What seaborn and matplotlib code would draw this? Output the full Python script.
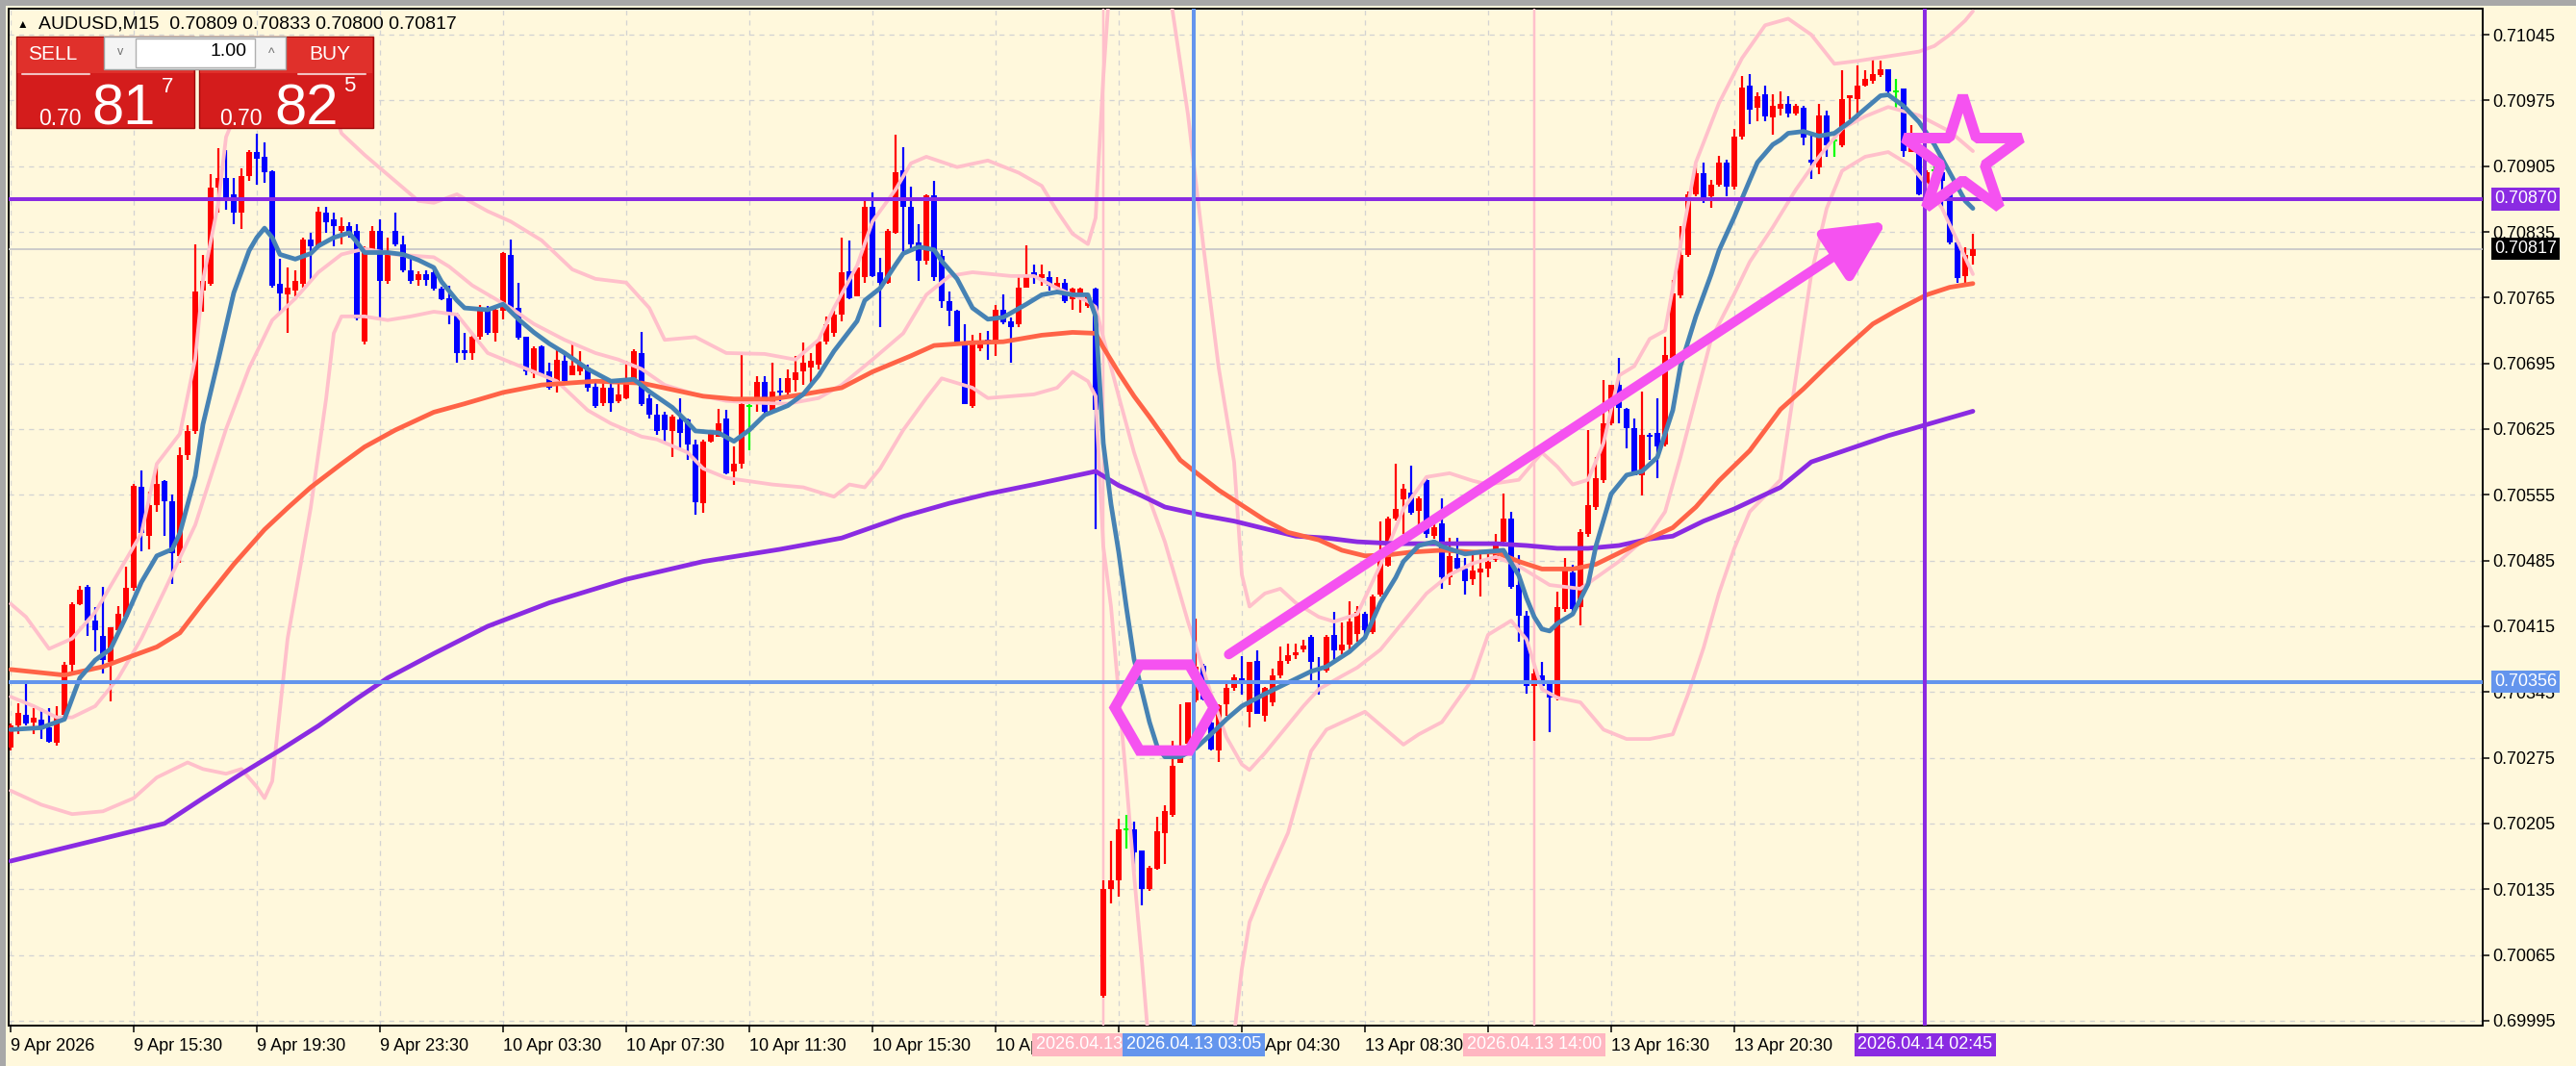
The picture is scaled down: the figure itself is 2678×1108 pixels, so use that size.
import numpy as np
import pandas as pd
import matplotlib
matplotlib.use("Agg")
import matplotlib.pyplot as plt
import matplotlib.transforms as mtransforms
from matplotlib.patches import Rectangle
import seaborn as sns

# AUDUSD M15 candles, values in points above 0.70000 (1 point = 0.00001)
base = 0.70
pt = 0.00001

opens = [286, 309, 321, 313, 316, 307, 291, 321, 374, 439, 457, 421, 405, 377, 411, 425, 456, 564, 511, 544,
         570, 548, 490, 597, 623, 773, 780, 882, 892, 875, 855, 894, 920, 915, 900, 780, 768, 773, 780, 827,
         820, 855, 848, 836, 841, 836, 718, 813, 836, 783, 836, 822, 794, 784, 790, 792, 775, 764, 747, 709,
         706, 723, 754, 727, 751, 810, 754, 723, 684, 713, 686, 672, 698, 682, 686, 691, 670, 653, 669, 655,
         658, 676, 706, 658, 640, 640, 623, 635, 635, 609, 546, 612, 617, 636, 580, 588, 650, 652, 675, 643,
         666, 664, 677, 686, 691, 694, 718, 727, 747, 793, 766, 787, 862, 792, 781, 834, 901, 862, 824, 804,
         874, 809, 761, 751, 715, 650, 711, 720, 718, 752, 740, 737, 776, 792, 786, 787, 776, 781, 763, 768,
         756, 775, 22, 135, 145, 199, 199, 176, 135, 157, 195, 214, 269, 290, 336, 373, 313, 283, 332, 349,
         360, 324, 378, 320, 334, 363, 378, 384, 390, 404, 371, 368, 406, 389, 395, 407, 428, 409, 449, 480,
         530, 550, 557, 538, 571, 511, 525, 467, 488, 476, 465, 472, 476, 486, 505, 530, 459, 426, 351, 363,
         355, 339, 433, 472, 435, 513, 542, 571, 631, 672, 646, 626, 576, 619, 621, 609, 701, 767, 810, 875,
         897, 873, 885, 909, 883, 936, 991, 967, 982, 957, 966, 971, 961, 967, 912, 904, 959, 932, 927, 977,
         976, 991, 996, 1002, 1008, 985, 988, 920, 921, 877, 901, 899, 877, 824, 788, 809]
highs = [312, 333, 353, 328, 328, 328, 330, 377, 441, 458, 459, 435, 457, 414, 436, 479, 567, 581, 558, 585,
         571, 555, 606, 629, 822, 810, 896, 924, 922, 892, 903, 922, 940, 930, 901, 806, 797, 794, 829, 834,
         862, 862, 855, 850, 845, 843, 820, 841, 848, 829, 856, 831, 806, 793, 794, 795, 777, 778, 749, 727,
         725, 757, 756, 754, 814, 827, 781, 723, 713, 714, 696, 711, 708, 716, 708, 694, 677, 679, 677, 677,
         698, 710, 728, 662, 652, 643, 640, 658, 636, 614, 614, 624, 646, 645, 607, 706, 657, 681, 681, 696,
         679, 689, 703, 717, 706, 720, 745, 751, 829, 826, 797, 870, 877, 807, 838, 939, 925, 883, 843, 875,
         889, 816, 771, 752, 737, 725, 727, 730, 757, 768, 744, 787, 821, 800, 800, 793, 787, 785, 776, 776,
         769, 776, 145, 187, 210, 214, 207, 176, 160, 212, 224, 293, 332, 334, 423, 375, 318, 332, 356, 364,
         383, 377, 389, 350, 370, 393, 397, 397, 401, 406, 382, 406, 430, 419, 442, 436, 430, 449, 527, 532,
         588, 567, 586, 553, 573, 525, 551, 509, 509, 488, 496, 496, 492, 513, 556, 537, 491, 431, 370, 377,
         358, 452, 488, 481, 518, 624, 595, 677, 672, 701, 648, 636, 665, 621, 658, 723, 784, 841, 878, 907,
         909, 890, 916, 912, 945, 1001, 1003, 984, 991, 982, 985, 979, 971, 969, 937, 971, 964, 940, 1007, 980,
         1012, 1007, 1020, 1017, 1008, 998, 988, 949, 923, 901, 906, 901, 879, 826, 819, 833]
lows = [283, 300, 309, 300, 295, 291, 288, 318, 367, 437, 405, 388, 365, 335, 407, 423, 453, 495, 497, 537,
        511, 460, 483, 592, 620, 750, 778, 855, 859, 843, 838, 889, 885, 887, 776, 748, 727, 766, 776, 783,
        818, 834, 820, 822, 829, 741, 715, 811, 741, 780, 820, 792, 780, 778, 778, 773, 762, 737, 696, 699,
        699, 720, 725, 718, 742, 749, 720, 682, 679, 681, 667, 664, 672, 682, 682, 665, 648, 650, 643, 653,
        657, 672, 650, 636, 619, 611, 595, 602, 592, 534, 536, 611, 617, 577, 566, 583, 602, 643, 640, 641,
        655, 658, 665, 672, 669, 689, 715, 723, 740, 763, 766, 781, 787, 734, 780, 833, 814, 816, 783, 800,
        783, 754, 735, 715, 652, 648, 708, 699, 703, 737, 696, 734, 776, 780, 778, 773, 773, 759, 752, 749,
        754, 518, 20, 120, 127, 178, 154, 118, 133, 156, 162, 212, 269, 288, 334, 336, 283, 271, 320, 346,
        342, 307, 322, 314, 330, 360, 375, 380, 387, 358, 342, 366, 377, 385, 388, 399, 401, 407, 447, 478,
        528, 513, 534, 523, 509, 508, 455, 459, 474, 449, 459, 447, 467, 484, 503, 455, 399, 343, 293, 348,
        302, 336, 430, 428, 416, 510, 539, 568, 629, 631, 605, 576, 554, 592, 573, 607, 699, 764, 808, 873,
        866, 861, 883, 873, 880, 933, 950, 953, 953, 939, 959, 957, 959, 927, 891, 896, 915, 915, 925, 955,
        955, 990, 993, 1000, 980, 966, 915, 920, 874, 870, 894, 862, 822, 781, 781, 800]
closes = [309, 323, 312, 318, 305, 292, 319, 374, 439, 454, 421, 411, 379, 414, 428, 456, 565, 514, 544, 567,
          548, 493, 597, 623, 771, 783, 882, 892, 871, 855, 894, 920, 913, 899, 778, 769, 776, 783, 827, 820,
          857, 845, 841, 841, 834, 743, 813, 836, 783, 811, 822, 794, 783, 790, 784, 775, 763, 747, 706, 706,
          723, 752, 727, 752, 812, 752, 722, 686, 711, 682, 669, 699, 676, 693, 694, 669, 650, 669, 653, 662,
          677, 708, 652, 640, 623, 624, 638, 621, 609, 547, 612, 623, 631, 578, 588, 652, 650, 675, 643, 665,
          664, 679, 685, 696, 698, 718, 737, 747, 792, 764, 797, 862, 788, 781, 836, 899, 862, 822, 804, 874,
          787, 761, 751, 717, 652, 717, 718, 719, 752, 739, 734, 776, 788, 787, 790, 778, 781, 761, 775, 775,
          766, 645, 135, 145, 199, 199, 174, 135, 158, 197, 218, 266, 276, 334, 372, 337, 284, 331, 349, 361,
          355, 377, 322, 349, 363, 378, 384, 387, 394, 377, 368, 404, 389, 396, 420, 430, 411, 447, 492, 530,
          540, 561, 536, 551, 513, 521, 467, 490, 476, 463, 474, 476, 484, 503, 530, 457, 426, 351, 365, 351,
          339, 435, 474, 433, 515, 544, 573, 631, 672, 648, 626, 576, 619, 617, 607, 704, 769, 810, 875, 897,
          870, 885, 909, 883, 936, 989, 965, 979, 958, 969, 971, 961, 969, 935, 909, 959, 927, 932, 976, 980,
          991, 998, 1003, 1008, 985, 985, 921, 925, 875, 899, 901, 889, 824, 786, 810, 817]

# moving averages (bar index, points)
fast_ma_bars = [0, 4, 7, 9, 11, 13, 15, 17, 19, 21, 22, 24, 25, 27, 29, 31, 32, 33, 34, 35, 37, 39, 40, 42, 44, 45,
                46, 49, 51, 53, 55, 56, 58, 59, 62, 64, 66, 68, 70, 72, 75, 78, 81, 83, 86, 88, 89, 92, 94, 96,
                98, 101, 103, 105, 107, 110, 111, 113, 115, 116, 118, 120, 121, 123, 125, 127, 129, 132, 134,
                136, 138, 140, 141, 142, 143, 144, 145, 146, 148, 149, 150, 152, 154, 156, 158, 160, 163, 166,
                169, 171, 174, 176, 178, 180, 181, 183, 185, 186, 189, 191, 194, 196, 197, 198, 199, 200, 201,
                203, 205, 206, 208, 210, 212, 214, 216, 217, 219, 221, 222, 224, 226, 227, 229, 230, 231, 233,
                235, 237, 239, 241, 243, 244, 246, 248, 250, 252, 254, 255]
fast_ma_pts = [305, 307, 316, 360, 379, 391, 425, 462, 490, 497, 514, 575, 630, 699, 770, 815, 829, 839, 829, 811,
               806, 812, 820, 829, 834, 824, 813, 813, 811, 805, 797, 782, 762, 754, 752, 758, 742, 728, 716,
               706, 689, 676, 678, 665, 648, 632, 623, 621, 612, 624, 640, 650, 662, 682, 708, 740, 762, 775,
               800, 812, 819, 816, 804, 785, 754, 742, 744, 758, 768, 771, 768, 768, 745, 610, 545, 494, 435,
               380, 313, 287, 276, 276, 285, 300, 316, 330, 343, 355, 367, 372, 388, 403, 440, 467, 484, 501,
               505, 500, 492, 494, 496, 469, 445, 425, 412, 410, 418, 428, 460, 500, 556, 576, 580, 595, 645,
               692, 745, 790, 815, 851, 890, 909, 928, 933, 940, 942, 937, 940, 952, 966, 980, 981, 969, 952,
               928, 898, 868, 860]

slow_ma_bars = [0, 7, 12, 16, 19, 22, 25, 29, 33, 36, 39, 43, 46, 50, 55, 59, 64, 69, 76, 82, 86, 90, 94, 99, 103,
                108, 112, 117, 120, 125, 129, 134, 138, 141, 142, 144, 146, 148, 150, 152, 154, 157, 160, 163,
                166, 170, 173, 176, 179, 182, 186, 190, 193, 196, 199, 203, 206, 209, 212, 216, 219, 222, 226,
                230, 233, 236, 239, 242, 245, 249, 252, 255]
slow_ma_pts = [369, 363, 372, 384, 393, 408, 440, 481, 518, 541, 563, 588, 606, 624, 643, 652, 664, 672, 676, 674,
               667, 660, 657, 657, 662, 669, 686, 703, 714, 717, 718, 725, 728, 727, 712, 685, 660, 638, 615,
               592, 579, 560, 544, 528, 515, 507, 496, 490, 491, 494, 496, 494, 494, 484, 476, 476, 481, 493,
               505, 520, 542, 570, 602, 646, 668, 692, 715, 737, 751, 768, 776, 780]

long_ma_bars = [0, 10, 20, 25, 30, 35, 40, 45, 49, 55, 62, 70, 80, 90, 100, 108, 116, 122, 127, 133, 141, 144, 147,
                150, 155, 159, 163, 167, 171, 175, 180, 193, 197, 201, 205, 209, 213, 216, 220, 224, 230, 234,
                244, 255]
long_ma_pts = [165, 185, 205, 232, 258, 283, 309, 338, 360, 386, 415, 440, 465, 484, 497, 509, 532, 546, 556, 566,
               580, 565, 554, 542, 533, 527, 519, 511, 509, 505, 503, 503, 501, 498, 498, 501, 508, 511, 527,
               540, 563, 590, 618, 644]

# Bollinger bands (upper / middle / lower)
bb_up_bars = [0, 2, 5, 8, 11, 14, 17, 19, 22, 24, 25, 27, 28, 30, 33, 38, 41, 43, 46, 50, 53, 55, 58, 62, 65, 69,
              73, 76, 80, 83, 85, 89, 93, 98, 102, 105, 107, 110, 112, 115, 117, 119, 123, 127, 131, 134, 136,
              138, 140, 141, 142, 143, 150, 151, 153, 155, 157, 159, 160, 161, 163, 165, 167, 170, 172, 175,
              178, 181, 184, 187, 190, 192, 196, 199, 201, 203, 205, 207, 209, 211, 213, 215, 217, 219, 222,
              225, 228, 231, 234, 237, 240, 244, 248, 250, 252, 254, 255]
bb_up_pts = [439, 425, 391, 402, 430, 472, 514, 588, 620, 700, 783, 866, 936, 975, 1000, 1015, 990, 940, 917,
             889, 868, 866, 875, 857, 846, 826, 795, 785, 781, 754, 720, 723, 706, 705, 699, 720, 754, 799, 846,
             880, 908, 915, 904, 911, 898, 884, 857, 833, 822, 850, 1000, 1120, 1120, 1070, 960, 820, 690, 590,
             470, 436, 450, 455, 440, 425, 420, 428, 480, 540, 574, 578, 570, 566, 571, 600, 585, 566, 571,
             610, 682, 692, 721, 730, 820, 909, 972, 1020, 1055, 1062, 1045, 1014, 1017, 1022, 1027, 1033,
             1045, 1060, 1070]
bb_mid_bars = [0, 3, 6, 8, 11, 14, 17, 20, 24, 28, 31, 34, 37, 40, 43, 46, 50, 55, 57, 60, 65, 68, 72, 76, 79, 82,
               85, 89, 93, 97, 101, 105, 108, 112, 116, 119, 122, 125, 130, 133, 136, 140, 141, 142, 144, 146,
               148, 150, 153, 156, 158, 160, 161, 163, 165, 168, 170, 173, 175, 178, 181, 184, 187, 190, 193,
               196, 200, 204, 209, 213, 215, 217, 219, 221, 224, 226, 229, 232, 235, 238, 241, 244, 248, 252,
               255]
bb_mid_pts = [340, 330, 318, 318, 330, 360, 402, 453, 523, 625, 690, 741, 764, 792, 811, 817, 811, 808, 798, 778,
              754, 737, 720, 706, 699, 689, 672, 662, 655, 653, 652, 658, 672, 699, 727, 768, 788, 792, 788,
              788, 775, 761, 755, 722, 660, 600, 550, 505, 420, 343, 297, 268, 262, 280, 300, 330, 348, 362,
              371, 390, 420, 450, 470, 482, 489, 479, 459, 455, 484, 513, 537, 595, 658, 721, 769, 803, 840,
              880, 915, 945, 958, 968, 959, 942, 921]
bb_low_bars = [0, 4, 8, 12, 16, 19, 23, 25, 28, 30, 32, 33, 34, 36, 39, 41, 42, 43, 46, 49, 52, 55, 58, 62, 68, 71,
               75, 78, 82, 84, 88, 90, 93, 99, 103, 107, 109, 111, 113, 116, 119, 121, 125, 127, 133, 136, 138,
               140, 141, 142, 143, 145, 146, 147, 148, 158, 159, 160, 161, 163, 166, 169, 171, 176, 178, 181,
               183, 186, 190, 192, 195, 197, 199, 201, 204, 207, 210, 213, 216, 218, 220, 222, 224, 226, 230,
               232, 234, 236, 238, 241, 244, 247, 249, 251, 253, 255]
bb_low_pts = [240, 225, 215, 218, 232, 254, 270, 263, 258, 263, 244, 232, 250, 402, 541, 657, 727, 745, 745, 741,
              745, 750, 747, 706, 686, 676, 645, 631, 617, 614, 600, 583, 573, 566, 563, 553, 566, 563, 583,
              624, 658, 679, 669, 658, 662, 669, 686, 676, 660, 500, 436, 250, 150, 60, -40, -40, -20, 50, 100,
              140, 195, 282, 305, 324, 310, 289, 300, 313, 359, 406, 421, 401, 348, 339, 334, 305, 295, 295,
              300, 343, 392, 450, 498, 537, 571, 680, 790, 860, 900, 915, 920, 905, 885, 860, 825, 790]

# chart objects
hline_levels = [0.70870, 0.70356]
bid_level = 0.70817
vline_bars = [142, 198, 153.75, 248.8]
vline_labels = ["2026.04.13 00:00", "2026.04.13 14:00", "2026.04.13 03:05", "2026.04.14 02:45"]
hexagon_at = (149.9, 329)
arrow_from = (158.3, 385)
arrow_to = (243.8, 846)
star_at = (253.6, 915)

tick_bars = list(range(0, 241, 16))
tick_labels = ["9 Apr 2026", "9 Apr 15:30", "9 Apr 19:30", "9 Apr 23:30", "10 Apr 03:30", "10 Apr 07:30",
               "10 Apr 11:30", "10 Apr 15:30", "10 Apr 19:30", "13 Apr 00:30", "13 Apr 04:30", "13 Apr 08:30",
               "13 Apr 12:30", "13 Apr 16:30", "13 Apr 20:30", "14 Apr 00:30"]
price_ticks = [0.69995 + 0.0007 * k for k in range(16)]


def to_price(v):
    return base + np.asarray(v, dtype=float) * pt


sns.set_theme(style="white")
plt.rcParams['font.family'] = ['Liberation Sans', 'DejaVu Sans']

bg = '#FFF8DC'
red, blue, green = '#FF0000', '#0000FF', '#00FF00'
purple, cblue, pink, mag = '#8A2BE2', '#6495ED', '#FFC0CB', '#F552F0'
PX = 0.72  # points per pixel at dpi 100

W, H = 2678, 1108
fig = plt.figure(figsize=(W / 100, H / 100), dpi=100, facecolor=bg)
ax = fig.add_axes([9 / W, 42 / H, 2572 / W, 1057 / H])
ax.set_facecolor(bg)

# candles
cd = pd.DataFrame({'bar': np.arange(len(opens)), 'o': to_price(opens), 'h': to_price(highs),
                   'l': to_price(lows), 'c': to_price(closes)})
cd['col'] = np.where(cd.c > cd.o + 1e-9, red, np.where(cd.c < cd.o - 1e-9, blue, green))
ax.vlines(cd.bar, cd.l, cd.h, colors=cd.col, lw=2.2 * PX, zorder=3)
body = cd[cd.col != green]
ax.bar(body.bar, body.c - body.o, bottom=body.o, width=0.68, color=body.col, lw=0, zorder=3)
doji = cd[cd.col == green]
ax.hlines(doji.o, doji.bar - 0.34, doji.bar + 0.34, colors=green, lw=2 * PX, zorder=3)

# indicators
for xs, ys, col, lw, z in [(bb_up_bars, bb_up_pts, pink, 3.8, 4), (bb_mid_bars, bb_mid_pts, pink, 3.8, 4),
                           (bb_low_bars, bb_low_pts, pink, 3.8, 4), (long_ma_bars, long_ma_pts, purple, 4.8, 5),
                           (slow_ma_bars, slow_ma_pts, '#FF6347', 4.8, 5),
                           (fast_ma_bars, fast_ma_pts, '#4682B4', 4.8, 5)]:
    sns.lineplot(x=xs, y=to_price(ys), ax=ax, color=col, lw=lw * PX, zorder=z,
                 estimator=None, sort=False, legend=False)

# horizontal / vertical objects
ax.axhline(bid_level, color='#C8C8C8', lw=1.8 * PX, zorder=2.6)
ax.axhline(hline_levels[0], color=purple, lw=4 * PX, zorder=6)
ax.axhline(hline_levels[1], color=cblue, lw=4 * PX, zorder=6)
ax.axvline(vline_bars[0], color=pink, lw=2.5 * PX, zorder=2.7)
ax.axvline(vline_bars[1], color=pink, lw=2.5 * PX, zorder=2.7)
ax.axvline(vline_bars[2], color=cblue, lw=4 * PX, zorder=6)
ax.axvline(vline_bars[3], color=purple, lw=4 * PX, zorder=6)

# drawn shapes
ax.plot([hexagon_at[0]], [to_price(hexagon_at[1])], marker='H', ms=103 * PX, mfc='none', mec=mag,
        mew=11 * PX, zorder=7)
ax.plot([star_at[0]], [to_price(star_at[1])], marker='*', ms=128 * PX, mfc='none', mec=mag,
        mew=11 * PX, zorder=7)
ax.annotate('', xy=(arrow_to[0], to_price(arrow_to[1])), xytext=(arrow_from[0], to_price(arrow_from[1])),
            arrowprops=dict(arrowstyle='-|>,head_length=0.9,head_width=0.45', mutation_scale=42,
                            lw=10 * PX, color=mag, shrinkA=0, shrinkB=0), zorder=7)

# axes styling
ax.set_xlim(-0.25, 321.25)
ax.set_ylim(0.699898, 0.710727)
ax.set_xlabel('')
ax.set_ylabel('')
ax.yaxis.tick_right()
ax.set_yticks(price_ticks)
ax.set_yticklabels([f"{v:.5f}" for v in price_ticks])
ax.set_xticks(tick_bars)
ax.set_xticklabels(tick_labels)
plt.setp(ax.get_xticklabels(), ha='left')
ax.tick_params(axis='y', direction='out', length=7 * PX, width=1.5 * PX, pad=2.5, labelsize=13,
               colors='black', right=True, left=False)
ax.tick_params(axis='x', direction='out', length=7 * PX, width=1.5 * PX, pad=4.5, labelsize=13,
               colors='black', bottom=True)
ax.grid(True, color='#D3D3D3', lw=1.3 * PX, ls=(0, (4, 4)), zorder=1)
ax.set_axisbelow(True)
for sp in ax.spines.values():
    sp.set_color('black')
    sp.set_linewidth(2 * PX)
    sp.set_visible(True)

# price labels on the right scale
ytr = mtransforms.blended_transform_factory(ax.transAxes, ax.transData)
for lvl, txt, fc in [(hline_levels[0], '0.70870', purple), (bid_level, '0.70817', 'black'),
                     (hline_levels[1], '0.70356', cblue)]:
    ax.text(1.0046, lvl, txt, transform=ytr, ha='left', va='center', color='white', fontsize=13,
            zorder=8, clip_on=False, bbox=dict(boxstyle='square,pad=0.18', fc=fc, ec='none'))

# time labels under the vertical lines
xtr = mtransforms.blended_transform_factory(ax.transData, ax.transAxes)
for xb, txt, fc in [(vline_bars[0], vline_labels[0], '#FFB6C1'), (vline_bars[1], vline_labels[1], '#FFB6C1'),
                    (vline_bars[2], vline_labels[2], cblue), (vline_bars[3], vline_labels[3], purple)]:
    ax.text(xb, -0.0189, txt, transform=xtr, ha='center', va='center', color='white', fontsize=13,
            zorder=8, clip_on=False, bbox=dict(boxstyle='square,pad=0.2', fc=fc, ec='none'))

# overlay in pixel coordinates: window frame, header and one-click panel
ov = fig.add_axes([0, 0, 1, 1], zorder=10)
ov.set_xlim(0, W)
ov.set_ylim(H, 0)
ov.axis('off')
ov.patch.set_alpha(0)
ov.add_patch(Rectangle((0, 0), W, 6, fc='#A8A8A8', ec='none'))
ov.add_patch(Rectangle((0, 0), 6, H, fc='#A8A8A8', ec='none'))

ov.text(18, 26, '\u25B2', fontsize=8.5, va='center', ha='left', color='black')
ov.text(40, 25, 'AUDUSD,M15  0.70809 0.70833 0.70800 0.70817', fontsize=14, va='center', ha='left',
        color='black')

# SELL / BUY panel
for x0, x1 in [(17, 202), (207, 388)]:
    ov.add_patch(Rectangle((x0, 38), x1 - x0, 95, fc='#D41C1C', ec='#9E0A0A', lw=1))
    ov.add_patch(Rectangle((x0 + 1, 39), x1 - x0 - 2, 37, fc='#E0302B', ec='none'))
ov.add_patch(Rectangle((108, 38), 189, 34, fc='#F4F4F4', ec='#A0A0A0', lw=1))
ov.add_patch(Rectangle((141, 40), 124, 30, fc='white', ec='#B0B0B0', lw=1))
ov.plot([23, 93], [77, 77], color='#F2C0C0', lw=1.5)
ov.plot([310, 380], [77, 77], color='#F2C0C0', lw=1.5)
ov.text(55, 56, 'SELL', fontsize=15, color='white', ha='center', va='center')
ov.text(343, 56, 'BUY', fontsize=15, color='white', ha='center', va='center')
ov.text(125, 54, 'v', fontsize=9, color='#707070', ha='center', va='center')
ov.text(282, 56, '^', fontsize=10, color='#707070', ha='center', va='center')
ov.text(256, 53, '1.00', fontsize=14, color='black', ha='right', va='center')
ov.text(40, 130, '0.70', fontsize=16.5, color='white', ha='left', va='baseline')
ov.text(95, 130, '81', fontsize=43, color='white', ha='left', va='baseline')
ov.text(168, 80, '7', fontsize=16, color='white', ha='left', va='top')
ov.text(228, 130, '0.70', fontsize=16.5, color='white', ha='left', va='baseline')
ov.text(285, 130, '82', fontsize=43, color='white', ha='left', va='baseline')
ov.text(357, 79, '5', fontsize=16, color='white', ha='left', va='top')

fig.savefig('out.png', dpi=100, facecolor=bg)
